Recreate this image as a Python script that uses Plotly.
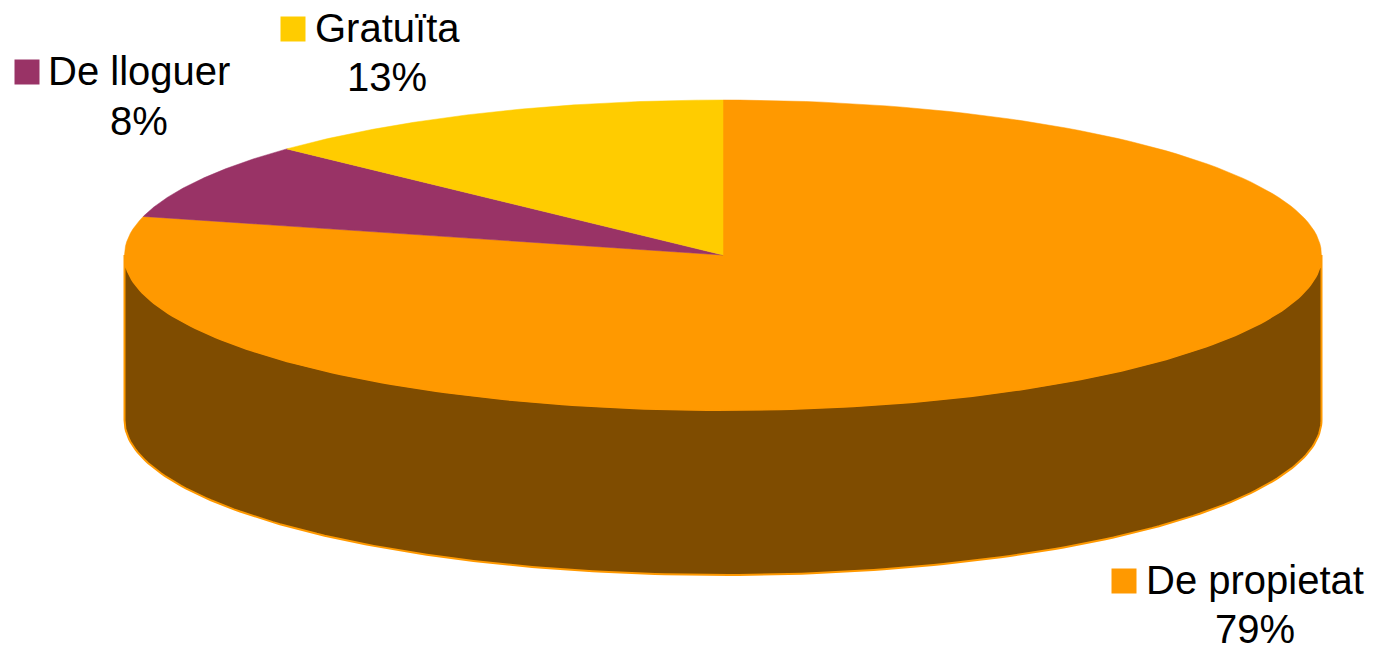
import numpy as np
import plotly.graph_objects as go

categories = ["De propietat", "De lloguer", "Gratuïta"]
values = [79, 8, 13]
colors = ["#FF9900", "#993366", "#FFCC00"]
side_color = "#7F4C00"
label_xy = [(1255, 580), (139, 71), (387, 28)]
percent_xy = [(1255, 629), (139, 121), (387, 77)]
key_xy = [(1124, 581), (27, 72), (293, 29)]

W, H = 1373, 649
cx, cy, rx, ry, depth = 723, 255, 598.5, 155, 165


def rim(a0, a1, n=180):
    t = np.radians(np.linspace(a0, a1, n))
    return cx + rx * np.sin(t), cy - ry * np.cos(t)


fig = go.Figure()

# extruded wall (front half of the ellipse)
xs, ys = rim(90, 270)
fig.add_trace(go.Scatter(
    x=np.r_[xs, xs[::-1], xs[0]], y=np.r_[ys, ys[::-1] + depth, ys[0]],
    mode="lines", fill="toself", fillcolor=side_color,
    line=dict(color=colors[0], width=2), hoverinfo="skip", showlegend=False))

# top slices
start = 0.0
total = sum(values)
for name, v, c in zip(categories, values, colors):
    end = start + 360 * v / total
    xs, ys = rim(start, end)
    fig.add_trace(go.Scatter(
        x=np.r_[cx, xs, cx], y=np.r_[cy, ys, cy],
        mode="lines", fill="toself", fillcolor=c,
        line=dict(color=c, width=0.5), name=name, showlegend=False))
    start = end

# legend keys
fig.add_trace(go.Scatter(
    x=[p[0] for p in key_xy], y=[p[1] for p in key_xy], mode="markers",
    marker=dict(symbol="square", size=25, color=colors, line=dict(width=0)),
    hoverinfo="skip", showlegend=False))

font = dict(family="Liberation Sans, Arial, sans-serif", size=40, color="#000000")
for name, v, (lx, ly), (px, py) in zip(categories, values, label_xy, percent_xy):
    fig.add_annotation(x=lx, y=ly, text=name, showarrow=False, font=font,
                       xanchor="center", yanchor="middle")
    fig.add_annotation(x=px, y=py, text=f"{v}%", showarrow=False, font=font,
                       xanchor="center", yanchor="middle")

fig.update_xaxes(range=[0, W], visible=False, fixedrange=True)
fig.update_yaxes(range=[H, 0], visible=False, fixedrange=True)
fig.update_layout(width=W, height=H, margin=dict(l=0, r=0, t=0, b=0),
                  paper_bgcolor="white", plot_bgcolor="white", showlegend=False)
fig.write_html("out.html", config=dict(displayModeBar=False),
               post_script="document.body.style.margin='0';document.body.style.overflow='hidden';")
